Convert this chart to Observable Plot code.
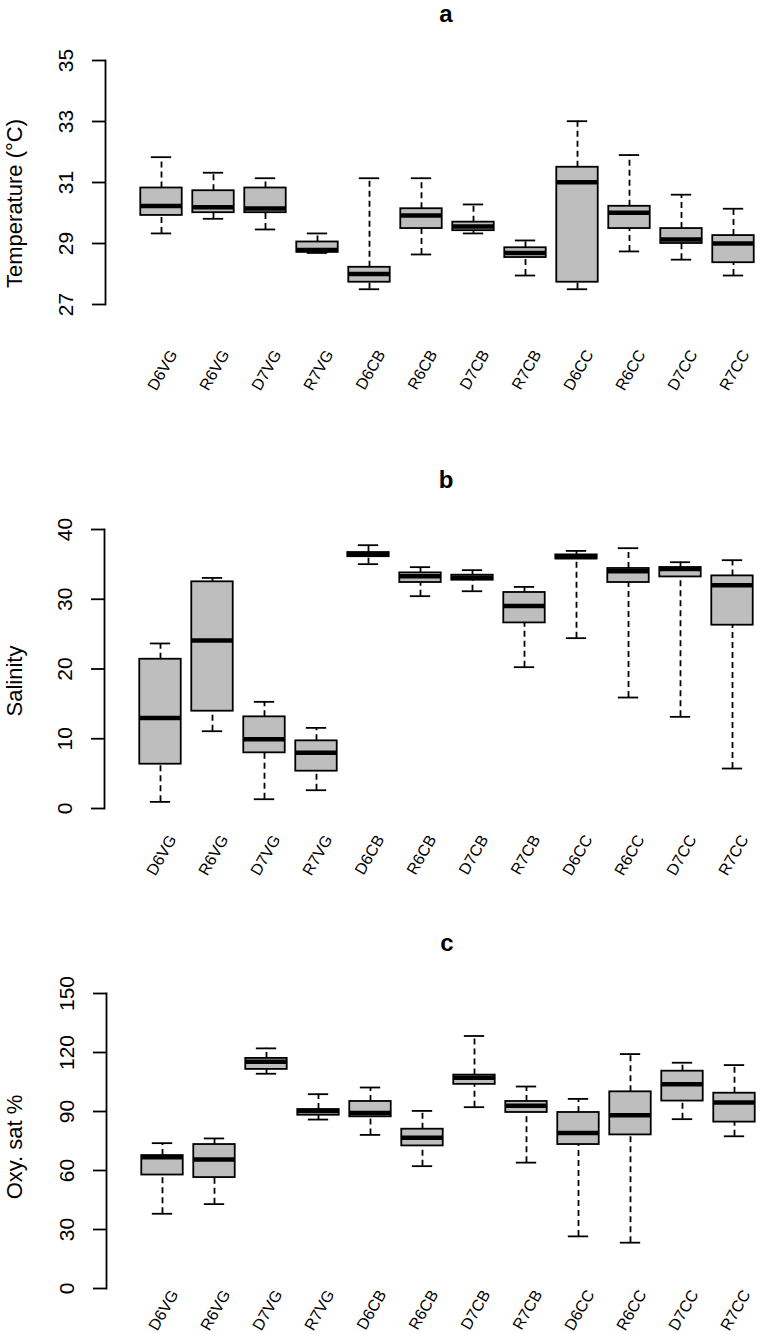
<!DOCTYPE html>
<html><head><meta charset="utf-8">
<script src="https://cdn.jsdelivr.net/npm/d3@7"></script>
<script src="https://cdn.jsdelivr.net/npm/@observablehq/plot@0.6"></script>
<style>
body{margin:0;background:#fff;font-family:"Liberation Sans",Arial,sans-serif}
#root{position:relative;width:763px;height:1334px;overflow:hidden;background:#fff}
.panel{position:absolute;left:0}
.title{position:absolute;width:200px;text-align:center;font-weight:bold;font-size:24px;line-height:normal;color:#000}
</style></head><body><div id="root"></div>
<script>
// ---- data ----
const categories = ["D6VG","R6VG","D7VG","R7VG","D6CB","R6CB","D7CB","R7CB","D6CC","R6CC","D7CC","R7CC"];
const panelTitles = ["a", "b", "c"];
const yLabels = ["Temperature (°C)", "Salinity", "Oxy. sat %"];
const tempTicks = [27, 29, 31, 33, 35];
const salTicks = [0, 10, 20, 30, 40];
const oxyTicks = [0, 30, 60, 90, 120, 150];

const tempLow  = [29.33, 29.81, 29.46, 28.69, 27.50, 28.64, 29.33, 27.95, 27.50, 28.74, 28.47, 27.95];
const tempQ1   = [29.92, 30.01, 30.01, 28.71, 27.73, 29.49, 29.42, 28.54, 27.73, 29.49, 29.00, 28.37];
const tempMed  = [30.23, 30.19, 30.15, 28.79, 28.00, 29.92, 29.56, 28.69, 31.01, 30.01, 29.13, 29.00];
const tempQ3   = [30.82, 30.73, 30.82, 29.05, 28.22, 30.14, 29.70, 28.86, 31.50, 30.22, 29.49, 29.26];
const tempHigh = [31.83, 31.32, 31.14, 29.33, 31.14, 31.14, 30.28, 29.10, 33.01, 31.90, 30.60, 30.14];

const salLow  = [0.95, 11.08, 1.33, 2.62, 35.03, 30.44, 31.15, 20.26, 24.42, 15.91, 13.14, 5.73];
const salQ1   = [6.35, 13.95, 7.98, 5.35, 36.10, 32.40, 32.73, 26.61, 35.78, 32.40, 33.20, 26.28];
const salMed  = [12.99, 24.08, 9.94, 7.98, 36.46, 33.30, 33.10, 29.05, 36.07, 34.02, 34.35, 32.01];
const salQ3   = [21.40, 32.50, 13.14, 9.70, 36.70, 33.78, 33.45, 30.97, 36.36, 34.41, 34.55, 33.35];
const salHigh = [23.66, 33.06, 15.29, 11.56, 37.75, 34.60, 34.17, 31.77, 36.93, 37.32, 35.31, 35.60];

const oxyLow  = [38.0, 42.9, 109.2, 85.9, 78.1, 62.2, 92.2, 64.0, 26.5, 23.3, 86.1, 77.4];
const oxyQ1   = [57.7, 56.4, 111.4, 88.1, 87.3, 72.5, 103.8, 89.5, 73.2, 78.1, 95.3, 84.6];
const oxyMed  = [66.7, 65.6, 115.3, 90.2, 89.3, 76.7, 107.1, 92.9, 79.1, 88.1, 103.8, 94.6];
const oxyQ3   = [67.6, 73.2, 117.0, 91.0, 95.1, 81.0, 108.5, 95.1, 89.5, 100.0, 110.5, 99.3];
const oxyHigh = [73.9, 76.3, 122.1, 98.8, 102.2, 90.3, 128.4, 102.7, 96.4, 119.2, 114.8, 113.6];

// ---- layout (styles / positions only) ----
const layout = [
  {svgTop: 30,  height: 410, axisTop: 60,  axisBottom: 304,  left: 105, xRange: [130.6, 763.7], xPad: 47, ylabDy: 21, titleX: 446, titleTop: 0},
  {svgTop: 500, height: 380, axisTop: 529, axisBottom: 808,  left: 104, xRange: [129.9, 763.0], xPad: 28, ylabDy: 12, titleX: 446, titleTop: 466},
  {svgTop: 960, height: 374, axisTop: 993, axisBottom: 1288, left: 106, xRange: [131.9, 764.8], xPad: 3,  ylabDy: 6,  titleX: 447, titleTop: 929}
];

const series = [
  {ticks: tempTicks, lo: tempLow, q1: tempQ1, med: tempMed, q3: tempQ3, hi: tempHigh},
  {ticks: salTicks,  lo: salLow,  q1: salQ1,  med: salMed,  q3: salQ3,  hi: salHigh},
  {ticks: oxyTicks,  lo: oxyLow,  q1: oxyQ1,  med: oxyMed,  q3: oxyQ3,  hi: oxyHigh}
];

const root = document.getElementById("root");
const font = "'Liberation Sans', Arial, Helvetica, sans-serif";

series.forEach((s, p) => {
  const L = layout[p];
  const rows = categories.map((c, i) => ({cat: c, lo: s.lo[i], q1: s.q1[i], med: s.med[i], q3: s.q3[i], hi: s.hi[i]}));
  const band = (L.xRange[1] - L.xRange[0]) / categories.length;
  const boxInset = band * 0.1;
  const capInset = band * 0.3;
  const lw = 1.8;
  const yMin = s.ticks[0], yMax = s.ticks[s.ticks.length - 1];
  const chart = Plot.plot({
    width: 763,
    height: L.height,
    marginTop: L.axisTop - L.svgTop,
    marginBottom: L.svgTop + L.height - L.axisBottom,
    marginLeft: L.left,
    marginRight: 0,
    style: {fontFamily: font, color: "#000", background: "transparent", overflow: "visible"},
    x: {type: "band", domain: categories, range: L.xRange, padding: 0},
    y: {domain: [yMin, yMax]},
    marks: [
      Plot.frame({anchor: "left", stroke: "#000", strokeWidth: lw}),
      Plot.ruleX(rows, {x: "cat", y1: "q3", y2: "hi", stroke: "#000", strokeWidth: lw, strokeDasharray: "6,4"}),
      Plot.ruleX(rows, {x: "cat", y1: "lo", y2: "q1", stroke: "#000", strokeWidth: lw, strokeDasharray: "6,4"}),
      Plot.tickY(rows, {x: "cat", y: "hi", stroke: "#000", strokeWidth: lw, insetLeft: capInset, insetRight: capInset}),
      Plot.tickY(rows, {x: "cat", y: "lo", stroke: "#000", strokeWidth: lw, insetLeft: capInset, insetRight: capInset}),
      Plot.barY(rows, {x: "cat", y1: "q1", y2: "q3", fill: "#bebebe", stroke: "#000", strokeWidth: lw, insetLeft: boxInset, insetRight: boxInset}),
      Plot.tickY(rows, {x: "cat", y: "med", stroke: "#000", strokeWidth: 4.5, insetLeft: boxInset, insetRight: boxInset}),
      Plot.axisY({ticks: s.ticks, tickSize: 13, tickRotate: -90, tickPadding: 20, fontSize: 21, label: null, strokeWidth: lw, tickFormat: d => String(d)}),
      Plot.axisX({tickSize: 0, tickRotate: -60, tickPadding: L.xPad, fontSize: 16, label: null, dx: 12}),
      Plot.text([yLabels[p]], {frameAnchor: "left", y: () => (yMin + yMax) / 2, rotate: -90, textAnchor: "middle", lineAnchor: "middle", dx: 14 - L.left, dy: L.ylabDy, fontSize: 22, fill: "#000"})
    ]
  });
  chart.classList.add("panel");
  chart.style.top = L.svgTop + "px";
  root.appendChild(chart);

  const t = document.createElement("div");
  t.className = "title";
  t.textContent = panelTitles[p];
  t.style.left = (L.titleX - 100) + "px";
  t.style.top = L.titleTop + "px";
  root.appendChild(t);
});
</script></body></html>
